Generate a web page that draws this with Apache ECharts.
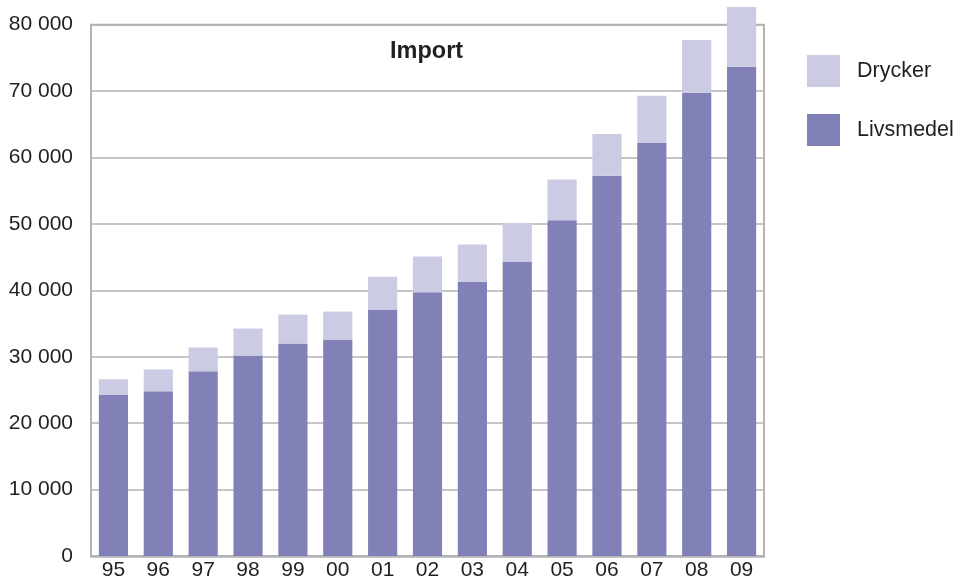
<!DOCTYPE html>
<html>
<head>
<meta charset="utf-8">
<script src="https://cdn.jsdelivr.net/npm/echarts@6/dist/echarts.min.js"></script>
<style>html,body{margin:0;padding:0;background:#fff}#c{width:957px;height:580px}</style>
</head>
<body>
<div id="c"></div>
<script>
const years = ['95','96','97','98','99','00','01','02','03','04','05','06','07','08','09'];
const livsmedel = [24250, 24800, 27800, 30200, 32000, 32600, 37100, 39700, 41300, 44350, 50550, 57250, 62200, 69700, 73650];
const drycker = [2350, 3300, 3600, 4050, 4350, 4200, 4950, 5400, 5600, 5800, 6150, 6300, 7100, 8000, 9000];
const yTicks = [0, 80000, 10000];

const chart = echarts.init(document.getElementById('c'), null, {renderer: 'canvas'});
const gray = '#b3b3b5';
const txt = '#231f20';
const font = '"Liberation Sans", Arial, sans-serif';
chart.setOption({
  animation: false,
  backgroundColor: '#fff',
  textStyle: {fontFamily: font},
  graphic: [{
    type: 'text', left: 390, top: 40,
    style: {text: 'Import', fontSize: 23.5, fontWeight: 'bold', fill: txt, fontFamily: font}
  }],
  legend: {
    orient: 'vertical', left: 802, top: 50,
    data: ['Drycker', 'Livsmedel'],
    itemWidth: 33, itemHeight: 32, itemGap: 27,
    icon: 'rect',
    textStyle: {fontSize: 21.5, color: txt, fontFamily: font, padding: [0, 0, 0, 12]}
  },
  grid: {
    left: 91, right: 193, top: 24.7, bottom: 24,
    outerBoundsMode: 'none',
    show: true, borderColor: gray, borderWidth: 2, backgroundColor: 'transparent'
  },
  xAxis: {
    type: 'category', data: years,
    axisLine: {show: true, lineStyle: {color: gray, width: 2.5}},
    axisTick: {show: false},
    axisLabel: {fontSize: 21, color: txt, margin: 4, fontFamily: font}
  },
  yAxis: {
    type: 'value', min: yTicks[0], max: yTicks[1], interval: yTicks[2],
    axisLine: {show: true, lineStyle: {color: gray, width: 2}},
    axisTick: {show: false},
    splitLine: {show: true, lineStyle: {color: gray, width: 1.6}},
    axisLabel: {
      fontSize: 21, color: txt, margin: 18, fontFamily: font,
      formatter: v => v === 0 ? '0' : String(v).replace(/\B(?=(\d{3})+(?!\d))/g, ' ')
    }
  },
  series: [
    {name: 'Livsmedel', type: 'bar', stack: 't', data: livsmedel, barWidth: '65%', clip: false,
     itemStyle: {color: '#8181b8'}},
    {name: 'Drycker', type: 'bar', stack: 't', data: drycker, barWidth: '65%', clip: false,
     itemStyle: {color: '#cbcbe3'}}
  ]
});
</script>
</body>
</html>
